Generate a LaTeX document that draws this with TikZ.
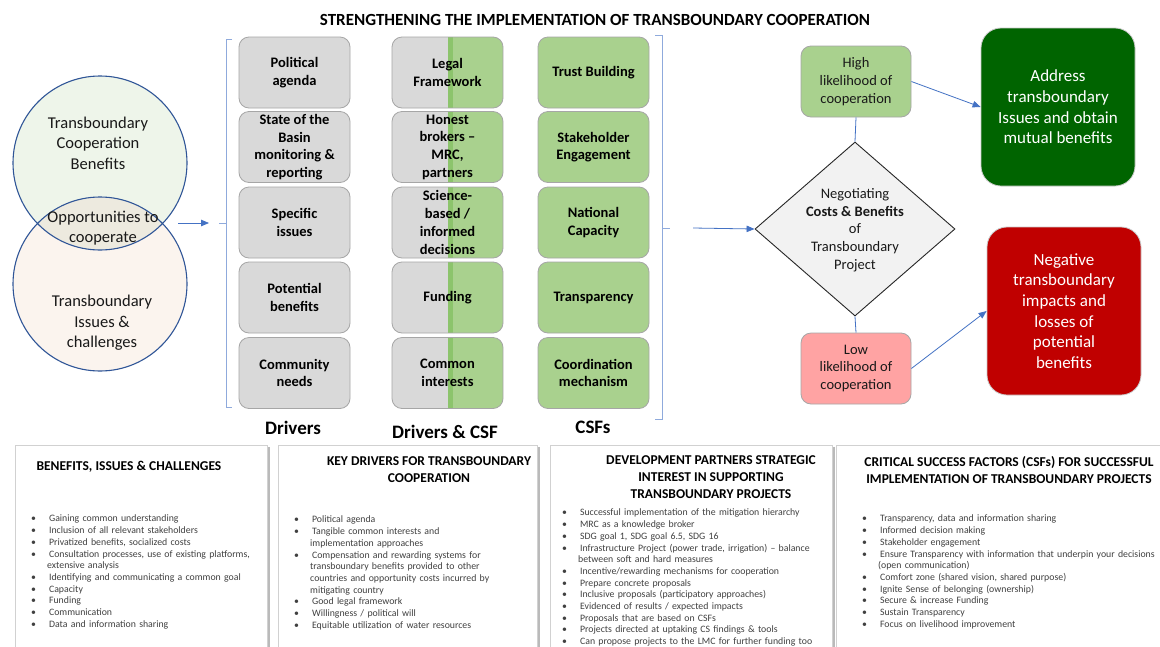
\documentclass[tikz,border=0pt]{standalone}
\usepackage{fontspec}
\setmainfont{Carlito}
\usetikzlibrary{shapes.geometric,arrows.meta,shadows}
\definecolor{drvgrey}{HTML}{D9D9D9}
\definecolor{csfgreen}{HTML}{A9D18E}
\definecolor{stripegreen}{HTML}{8CC46C}
\definecolor{boxedge}{HTML}{A6A6A6}
\definecolor{lowpink}{HTML}{FFA3A3}
\definecolor{darkgreen}{HTML}{006400}
\definecolor{darkred}{HTML}{C00000}
\definecolor{arrowblue}{HTML}{4472C4}
\definecolor{bracketblue}{HTML}{8FAADC}
\definecolor{circleblue}{HTML}{2F5597}
\definecolor{topfill}{HTML}{EEF5EA}
\definecolor{botfill}{HTML}{FBF4EE}
\definecolor{midfill}{HTML}{EDEADF}
\definecolor{diafill}{HTML}{F2F2F2}
\definecolor{txtgrey}{HTML}{404040}
\newcommand\myTitle{\bfseries\fontsize{17}{20}\selectfont}
\newcommand\myBold{\bfseries\fontsize{14.5}{17.7}\selectfont}
\newcommand\myReg{\fontsize{14.5}{17.7}\selectfont}
\newcommand\myCirc{\fontsize{16.5}{20.5}\selectfont}
\newcommand\myBig{\fontsize{17}{20.7}\selectfont}
\newcommand\myLab{\bfseries\fontsize{19}{22}\selectfont}
\newcommand\myHead{\bfseries\fontsize{13.5}{16.8}\selectfont}
\newcommand\myList{\fontsize{9.8}{11.7}\selectfont}
\newenvironment{blt}{\begin{list}{\textbullet}{\setlength\leftmargin{16pt}\setlength\labelwidth{3pt}\setlength\labelsep{13pt}\setlength\itemsep{0pt}\setlength\parsep{0pt}\setlength\topsep{0pt}\setlength\partopsep{0pt}\setlength\itemindent{0pt}}}{\end{list}}
\begin{document}
\begin{tikzpicture}[x=1pt,y=-1pt,
  drv/.style={draw=boxedge, fill=drvgrey, rounded corners=10, minimum width=111, minimum height=71, inner sep=0, align=center, font=\myBold, text=black, line width=0.8},
  csf/.style={drv, fill=csfgreen},
  dcs/.style={drv, path picture={
      \fill[csfgreen, sharp corners] (path picture bounding box.south) rectangle (path picture bounding box.north east);
      \fill[stripegreen, sharp corners] (path picture bounding box.south) rectangle ([xshift=5pt]path picture bounding box.north);}},
  hl/.style={draw=boxedge, rounded corners=10, minimum width=110, minimum height=71, inner sep=0, align=center, font=\myReg, text=black!90, line width=0.8},
  big/.style={draw=boxedge!60, rounded corners=20, minimum width=154, inner sep=0, align=center, font=\myBig, text=white, line width=0.8},
  arr/.style={draw=arrowblue, line width=0.8, -{Triangle[length=8,width=6.5]}},
  link/.style={draw=arrowblue, line width=0.8},
  brk/.style={draw=bracketblue, line width=0.9},
  lab/.style={font=\myLab, text=black},
  bbox/.style={draw=black!18, fill=white, line width=0.8, drop shadow={shadow xshift=2.5pt, shadow yshift=-2pt, opacity=0.45, fill=black!60}, anchor=north west, minimum height=230, inner sep=0},
  head/.style={font=\myHead, align=center, text=black},
  blist/.style={anchor=north west, text width=300, align=left, inner sep=0, text=txtgrey, font=\myList}
]
\useasboundingbox (0,0) rectangle (1160,646);
\fill[white] (0,0) rectangle (1160,646);

% title
\node[font=\myTitle] (title) at (595,20) {STRENGTHENING THE IMPLEMENTATION OF TRANSBOUNDARY COOPERATION};

% venn circles
\node[circle, minimum size=174, inner sep=0, fill=topfill] (cben) at (100,163) {};
\node[circle, minimum size=174, inner sep=0, fill=botfill] (ciss) at (100,284) {};
\begin{scope}
  \clip (100,163) circle[radius=87];
  \fill[midfill] (100,284) circle[radius=87];
\end{scope}
\draw[circleblue, line width=1.1] (cben.center) circle[radius=87];
\draw[circleblue, line width=1.1] (ciss.center) circle[radius=87];
\node[font=\myCirc, align=center, text=black!90] (tben) at (98,143) {Transboundary\\Cooperation\\Benefits};
\node[font=\myCirc, align=center, text=black!90] (topp) at (103,228) {Opportunities to\\cooperate};
\node[font=\myCirc, align=center, text=black!90] (tiss) at (102,323) {Transboundary\\Issues \&\\challenges};

\coordinate (a1s) at (178,223);
\coordinate (a1e) at (209,223);
\draw[arr] (a1s) -- (a1e);

% left bracket
\draw[brk] (232,39) -- (226,39) -- (226,407) -- (232,407);
\draw[brk] (219,223) -- (226,223);

% drivers
\node[drv] (d1) at (294.5,72.5) {Political\\agenda};
\node[drv] (d2) at (294.5,147) {State of the\\Basin\\monitoring \&\\reporting};
\node[drv] (d3) at (294.5,222.5) {Specific\\issues};
\node[drv] (d4) at (294.5,297.5) {Potential\\benefits};
\node[drv] (d5) at (294.5,373) {Community\\needs};

% drivers & csf
\node[dcs] (e1) at (447.5,72.5) {Legal\\Framework};
\node[dcs] (e2) at (447.5,147) {Honest\\brokers --\\MRC,\\partners};
\node[dcs] (e3) at (447.5,222.5) {Science-\\based /\\informed\\decisions};
\node[dcs] (e4) at (447.5,297.5) {Funding};
\node[dcs] (e5) at (447.5,373) {Common\\interests};

% csfs
\node[csf] (c1) at (593.5,72.5) {Trust Building};
\node[csf] (c2) at (593.5,147) {Stakeholder\\Engagement};
\node[csf] (c3) at (593.5,222.5) {National\\Capacity};
\node[csf] (c4) at (593.5,297.5) {Transparency};
\node[csf] (c5) at (593.5,373) {Coordination\\mechanism};

\node[lab] (ldrv) at (293,428) {Drivers};
\node[lab] (ldc) at (445,432) {Drivers \& CSF};
\node[lab] (lcsf) at (593,427) {CSFs};

% right bracket
\draw[brk] (655,35) -- (662,35) -- (662,419) -- (655,419);
\draw[brk] (662,228) -- (670,228);

% diamond
\node[diamond, draw=black!85, fill=diafill, minimum width=200, minimum height=174, inner sep=0, line width=0.9] (dia) at (855,229) {};
\node[font=\myReg, align=center, text=black!90] (diat) at (855,230) {Negotiating\\\textbf{Costs \& Benefits}\\of\\Transboundary\\Project};
\coordinate (a2s) at (693,228);
\draw[arr] (a2s) -- (dia.west);

\node[hl, fill=csfgreen] (high) at (856,81.5) {High\\likelihood of\\cooperation};
\node[hl, fill=lowpink] (low) at (856,368.5) {Low\\likelihood of\\cooperation};
\draw[link] (high.south) -- (dia.north);
\draw[link] (dia.south) -- (low.north);

\node[big, fill=darkgreen, minimum height=158] (addr) at (1058,107) {Address\\transboundary\\Issues and obtain\\mutual benefits};
\node[big, fill=darkred, minimum height=168] (neg) at (1064,311) {Negative\\transboundary\\impacts and\\losses of\\potential\\benefits};
\draw[arr] (high.east) -- (addr.west);
\draw[arr] (low.east) -- (neg.west);

% bottom boxes
\node[bbox, minimum width=252] (b1) at (15,445) {};
\node[bbox, minimum width=259] (b2) at (278,445) {};
\node[bbox, minimum width=282] (b3) at (550,445) {};
\node[bbox, minimum width=340] (b4) at (836,445) {};

\node[head, anchor=west] (h1) at (33,467) {BENEFITS, ISSUES \& CHALLENGES};
\node[head] (h2) at (429,470) {KEY DRIVERS FOR TRANSBOUNDARY\\COOPERATION};
\node[head] (h3) at (711,477) {DEVELOPMENT PARTNERS STRATEGIC\\INTEREST IN SUPPORTING\\TRANSBOUNDARY PROJECTS};
\node[head] (h4) at (1009,470) {CRITICAL SUCCESS FACTORS (CSFs) FOR SUCCESSFUL\\IMPLEMENTATION OF TRANSBOUNDARY PROJECTS};

\node[blist] (l1) at (31,510) {\begin{blt}
\item Gaining common understanding
\item Inclusion of all relevant stakeholders
\item Privatized benefits, socialized costs
\item Consultation processes, use of existing platforms,\\extensive analysis
\item Identifying and communicating a common goal
\item Capacity
\item Funding
\item Communication
\item Data and information sharing
\end{blt}};

\node[blist] (l2) at (294,511) {\begin{blt}
\item Political agenda
\item Tangible common interests and\\implementation approaches
\item Compensation and rewarding systems for\\transboundary benefits provided to other\\countries and opportunity costs incurred by\\mitigating country
\item Good legal framework
\item Willingness / political will
\item Equitable utilization of water resources
\end{blt}};

\node[blist] (l3) at (562,504) {\begin{blt}
\item Successful implementation of the mitigation hierarchy
\item MRC as a knowledge broker
\item SDG goal 1, SDG goal 6.5, SDG 16
\item Infrastructure Project (power trade, irrigation) -- balance\\between soft and hard measures
\item Incentive/rewarding mechanisms for cooperation
\item Prepare concrete proposals
\item Inclusive proposals (participatory approaches)
\item Evidenced of results / expected impacts
\item Proposals that are based on CSFs
\item Projects directed at uptaking CS findings \& tools
\item Can propose projects to the LMC for further funding too
\end{blt}};

\node[blist] (l4) at (862,510) {\begin{blt}
\item Transparency, data and information sharing
\item Informed decision making
\item Stakeholder engagement
\item Ensure Transparency with information that underpin your decisions\\(open communication)
\item Comfort zone (shared vision, shared purpose)
\item Ignite Sense of belonging (ownership)
\item Secure \& increase Funding
\item Sustain Transparency
\item Focus on livelihood improvement
\end{blt}};
\end{tikzpicture}
\end{document}
